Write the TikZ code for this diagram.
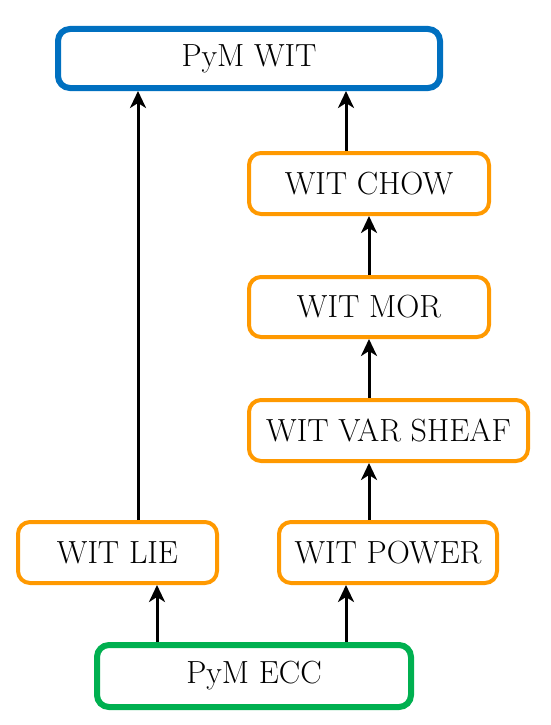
\documentclass[tikz,border=0pt]{standalone}
\usepackage{fontspec}
\usetikzlibrary{arrows.meta}
\definecolor{cblue}{HTML}{0070C0}
\definecolor{corange}{HTML}{FF9900}
\definecolor{cgreen}{HTML}{00B050}
\begin{document}
\begin{tikzpicture}[x=1pt,y=-1pt,
  box/.style={rounded corners=12pt, inner sep=0pt, minimum height=61pt,
    font=\fontsize{32}{38}\selectfont, text=black},
  obox/.style={box, draw=corange, line width=4pt},
  arr/.style={draw=black, line width=3pt, -{Stealth[length=17pt,width=16pt,inset=5pt]}}]
\useasboundingbox[fill=white] (0,0) rectangle (550,725);
\node[box, draw=cblue, line width=6pt, minimum width=382pt, minimum height=59pt] (wit) at (249,58.5) {PyM WIT};
\node[obox, minimum width=240pt] (chow) at (369,183.5) {WIT CHOW};
\node[obox, minimum width=240pt, minimum height=60pt] (mor) at (369,307) {WIT MOR};
\node[obox, minimum width=279pt] (var) at (388.5,430.5) {WIT VAR SHEAF};
\node[obox, minimum width=199pt] (lie) at (117.5,552.5) {WIT LIE};
\node[obox, minimum width=218pt] (power) at (388,552.5) {WIT POWER};
\node[box, draw=cgreen, line width=6pt, minimum width=314pt, minimum height=62pt] (ecc) at (254,676) {PyM ECC};
\coordinate (xa) at (138,0);
\coordinate (xb) at (346,0);
\coordinate (xc) at (369,0);
\coordinate (xd) at (157,0);
\draw[arr] (lie.north -| xa) -- (wit.south -| xa);
\draw[arr] (chow.north -| xb) -- (wit.south -| xb);
\draw[arr] (mor.north -| xc) -- (chow.south -| xc);
\draw[arr] (var.north -| xc) -- (mor.south -| xc);
\draw[arr] (power.north -| xc) -- (var.south -| xc);
\draw[arr] (ecc.north -| xd) -- (lie.south -| xd);
\draw[arr] (ecc.north -| xb) -- (power.south -| xb);
\end{tikzpicture}
\end{document}
